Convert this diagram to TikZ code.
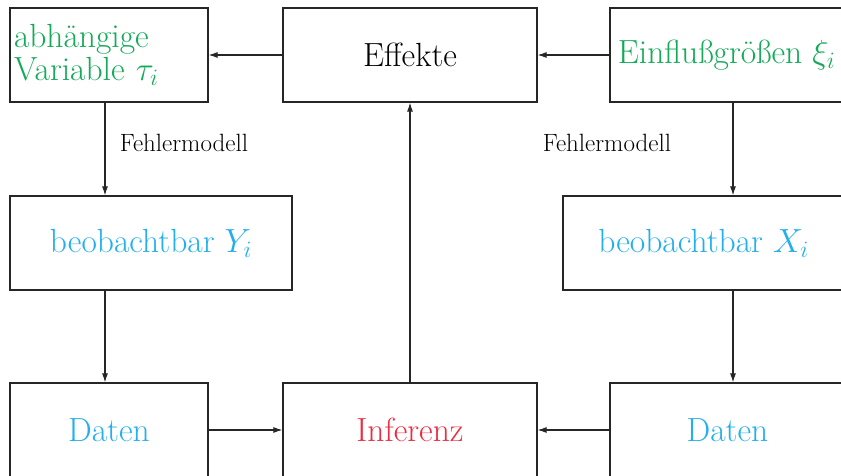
\RequirePackage{fix-cm}
\documentclass[tikz,border=0pt]{standalone}
\usetikzlibrary{arrows.meta}
\definecolor{flowgreen}{RGB}{20,170,90}
\definecolor{flowblue}{RGB}{35,175,235}
\definecolor{flowred}{RGB}{235,45,65}
\tikzset{
  every picture/.style={x=1pt,y=-1pt},
  blk/.style={draw=black!85,line width=1.2pt,rectangle,inner sep=0pt,
    minimum height=94pt,font=\fontsize{33.5}{33}\selectfont},
  flow/.style={draw=black!85,line width=1.1pt,-{Latex[length=9pt,width=6pt]}},
  lbl/.style={font=\fontsize{25}{29}\selectfont,inner sep=0pt}
}
\begin{document}
\begin{tikzpicture}
\useasboundingbox (0,0) rectangle (841,476);
\clip (0,0) rectangle (841,476);
% top row
\node[blk,minimum width=198pt,text width=190pt,align=left] (dep) at (109,55)
  {\textcolor{flowgreen}{abhängige\\Variable $\tau_i$}};
\node[blk,minimum width=254pt] (eff) at (410,55) {Effekte};
\node[blk,minimum width=233pt,text=flowgreen] (infl) at (726.5,55) {Einflußgrößen $\xi_i$};
% middle row
\node[blk,minimum width=282pt,text=flowblue] (obsY) at (151,243) {beobachtbar $Y_i$};
\node[blk,minimum width=281pt,text=flowblue] (obsX) at (703.5,243) {beobachtbar $X_i$};
% bottom row
\node[blk,minimum width=198pt,text=flowblue] (datL) at (109,430) {Daten};
\node[blk,minimum width=254pt,text=flowred] (inf) at (410,430) {Inferenz};
\node[blk,minimum width=235pt,text=flowblue] (datR) at (727.5,430) {Daten};
% column lines for the vertical connectors
\coordinate (colL) at (105,0);
\coordinate (colR) at (733,0);
% connectors
\draw[flow] (eff.west) -- (dep.east);
\draw[flow] (infl.west) -- (eff.east);
\draw[flow] (dep.south -| colL) -- (obsY.north -| colL);
\draw[flow] (obsY.south -| colL) -- (datL.north -| colL);
\draw[flow] (infl.south -| colR) -- (obsX.north -| colR);
\draw[flow] (obsX.south -| colR) -- (datR.north -| colR);
\draw[flow] (datL.east) -- (inf.west);
\draw[flow] (datR.west) -- (inf.east);
\draw[flow] (inf.north) -- (eff.south);
% labels
\node[lbl] (errL) at (184,143) {Fehlermodell};
\node[lbl] (errR) at (607,143) {Fehlermodell};
\end{tikzpicture}
\end{document}
